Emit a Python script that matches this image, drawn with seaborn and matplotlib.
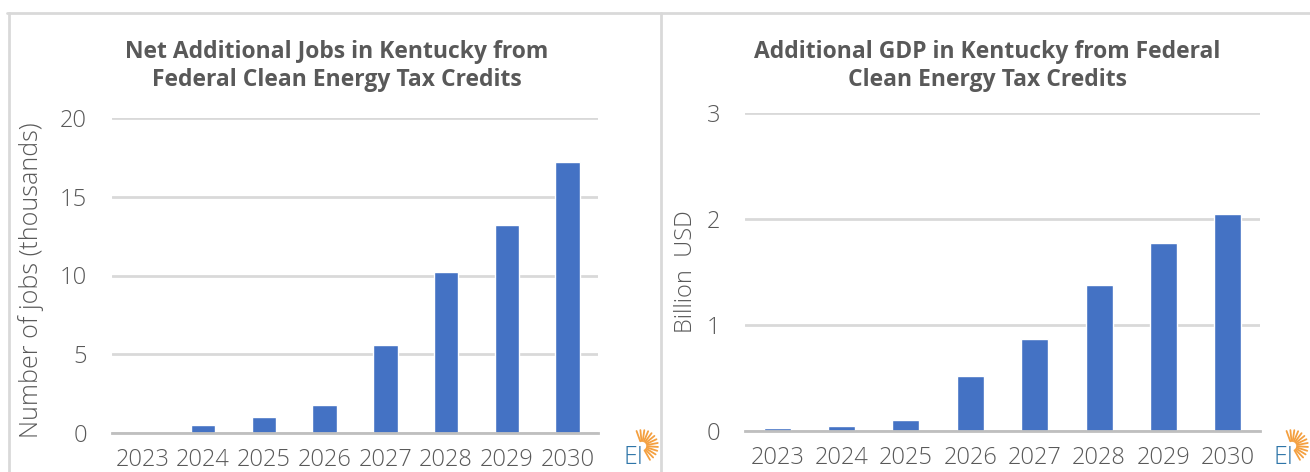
import matplotlib
matplotlib.use("Agg")
import matplotlib.pyplot as plt
import seaborn as sns
import pandas as pd
import numpy as np
from matplotlib.lines import Line2D

# --- data ---
years = ["2023", "2024", "2025", "2026", "2027", "2028", "2029", "2030"]
jobs_thousands = [0.0, 0.5, 1.0, 1.8, 5.6, 10.2, 13.2, 17.2]
gdp_billion = [0.025, 0.045, 0.10, 0.52, 0.87, 1.38, 1.77, 2.05]

BAR = "#4472C4"
TXT = "#595959"
GRID = "#D9D9D9"

sns.set_style("white")
plt.rcParams["font.family"] = ["Open Sans", "DejaVu Sans"]

W, H = 1310, 472
fig = plt.figure(figsize=(W / 100, H / 100), dpi=100)


def px_axes(x0, x1, ybot, ytop):
    return fig.add_axes([x0 / W, 1 - ybot / H, (x1 - x0) / W, (ybot - ytop) / H])


def style(ax, ymax, step, ylabel, lsize):
    ax.set_ylim(0, ymax)
    ax.set_yticks(np.arange(0, ymax + step / 2, step))
    ax.yaxis.grid(True, color=GRID, linewidth=2)
    ax.set_axisbelow(True)
    for s in ["top", "right", "left"]:
        ax.spines[s].set_visible(False)
    ax.spines["bottom"].set_color("#BFBFBF")
    ax.spines["bottom"].set_linewidth(2)
    ax.tick_params(axis="both", length=0, labelsize=17, labelcolor=TXT)
    ax.tick_params(axis="y", pad=18)
    ax.tick_params(axis="x", pad=11)
    for lab in ax.get_xticklabels() + ax.get_yticklabels():
        lab.set_fontweight(300)
    ax.set_xlabel("")
    ax.set_ylabel(ylabel, fontsize=lsize, color=TXT, fontweight=300)


# left chart
df_jobs = pd.DataFrame({"year": years, "value": jobs_thousands})
ax1 = px_axes(112, 598, 433, 118)
sns.barplot(data=df_jobs, x="year", y="value", color=BAR, width=0.4,
            saturation=1, ax=ax1)
style(ax1, 20, 5, "Number of jobs (thousands)", 18)
ax1.yaxis.set_label_coords(-68 / 486, 0.485)

# right chart
df_gdp = pd.DataFrame({"year": years, "value": gdp_billion})
ax2 = px_axes(745, 1260, 431, 113)
sns.barplot(data=df_gdp, x="year", y="value", color=BAR, width=0.42,
            saturation=1, ax=ax2)
style(ax2, 3, 1, "Billion  USD", 17)
ax2.yaxis.set_label_coords(-47 / 515, 0.5)

# titles
fig.text(337 / W, 1 - 66 / H, "Net Additional Jobs in Kentucky from\nFederal Clean Energy Tax Credits",
         ha="center", va="center", fontsize=16.5, fontweight="bold", color=TXT, linespacing=1.25)
fig.text(987 / W, 1 - 66 / H, "Additional GDP in Kentucky from Federal\nClean Energy Tax Credits",
         ha="center", va="center", fontsize=16.5, fontweight="bold", color=TXT, linespacing=1.25)

# panel borders
fig.add_artist(Line2D([7 / W, 1], [1 - 13 / H, 1 - 13 / H], color=GRID, lw=2))
fig.add_artist(Line2D([9 / W, 9 / W], [0, 1 - 13 / H], color=GRID, lw=2))
fig.add_artist(Line2D([661 / W, 661 / W], [0, 1 - 13 / H], color=GRID, lw=2))


# EI logos
def logo(cx, cy):
    fig.text(cx / W, 1 - cy / H, "EI", ha="center", va="center", fontsize=18,
             color="#2E75A8", fontweight=300)
    ox, oy = cx + 9, cy - 12
    for ang in np.linspace(-60, 110, 13):
        a = np.radians(ang)
        x0, y0 = ox + 5 * np.cos(a), oy - 5 * np.sin(a)
        x1, y1 = ox + 16 * np.cos(a), oy - 16 * np.sin(a)
        fig.add_artist(Line2D([x0 / W, x1 / W], [1 - y0 / H, 1 - y1 / H],
                              color="#F4A040", lw=1.3))


logo(633, 458)
logo(1283, 458)

fig.savefig("out.png", dpi=100, facecolor="white")
